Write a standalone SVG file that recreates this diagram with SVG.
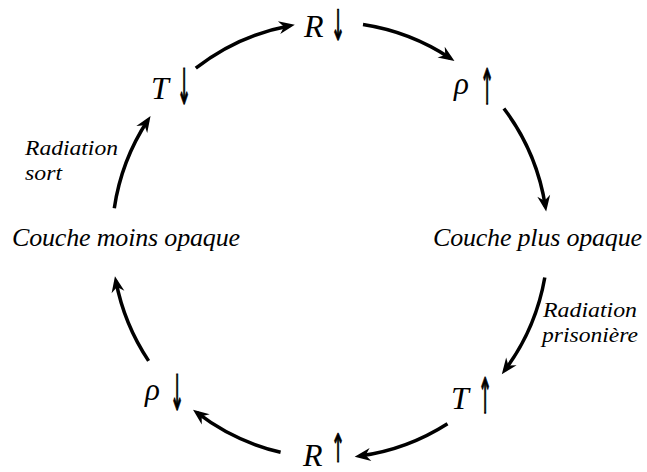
<svg xmlns="http://www.w3.org/2000/svg" width="647" height="472" viewBox="0 0 647 472">
<style>
.lbl{font-family:"Liberation Serif","DejaVu Serif",serif;font-style:italic;fill:#000}
.var{font-size:32px}
.arw{font-family:"DejaVu Sans",sans-serif;font-style:normal;font-size:28px;fill:#000;stroke:#000;stroke-width:0.8}
.rho{font-family:"Liberation Serif","DejaVu Serif",serif;font-style:italic;font-size:31px;fill:#000}
.big{font-size:26px}
.sm{font-size:22px}
.arc{fill:none;stroke:#000;stroke-width:3.5}
</style>
<defs>
<marker id="ah" markerUnits="userSpaceOnUse" orient="auto" refX="0" refY="0" overflow="visible" markerWidth="20" markerHeight="20">
<path d="M5,0 L-11,-6.5 L-6,0 L-11,6.5 Z" fill="#000"/>
</marker>
</defs>
<rect width="647" height="472" fill="#fff"/>
<g id="connectors">
<path class="arc" marker-end="url(#ah)" d="M195.8,68.2 A218,218 0 0 1 289.9,25.7"/>
<path class="arc" marker-end="url(#ah)" d="M363,24.5 A218,218 0 0 1 450.3,58.2"/>
<path class="arc" marker-end="url(#ah)" d="M503.9,108.5 A218,218 0 0 1 545.4,206.6"/>
<path class="arc" marker-end="url(#ah)" d="M544.8,277.5 A218,218 0 0 1 504.8,370.3"/>
<path class="arc" marker-end="url(#ah)" d="M447.5,423.7 A218,218 0 0 1 359.6,456"/>
<path class="arc" marker-end="url(#ah)" d="M280.6,452.3 A218,218 0 0 1 197,412.7"/>
<path class="arc" marker-end="url(#ah)" d="M148.6,360.9 A218,218 0 0 1 115.9,281.2"/>
<path class="arc" marker-end="url(#ah)" d="M114.3,208.2 A218,218 0 0 1 147.8,120.3"/>
</g>
<g id="R-down"><text class="lbl var" x="304" y="37">R</text><text class="arw" transform="translate(338,40) scale(0.6,1.5)" text-anchor="middle">↓</text></g>
<g id="rho-up"><text class="rho" x="454" y="94">ρ</text><text class="arw" transform="translate(487,104) scale(0.6,1.75)" text-anchor="middle">↑</text></g>
<g id="T-down"><text class="lbl var" x="151" y="99">T</text><text class="arw" transform="translate(184,104) scale(0.6,1.75)" text-anchor="middle">↓</text></g>
<g id="couche-plus"><text class="lbl big" x="433" y="246" textLength="209" lengthAdjust="spacing">Couche plus opaque</text></g>
<g id="couche-moins"><text class="lbl big" x="12" y="246" textLength="228" lengthAdjust="spacing">Couche moins opaque</text></g>
<g id="T-up"><text class="lbl var" x="451" y="409">T</text><text class="arw" transform="translate(485,413) scale(0.6,1.75)" text-anchor="middle">↑</text></g>
<g id="rho-down"><text class="rho" x="145" y="400">ρ</text><text class="arw" transform="translate(177,410) scale(0.6,1.75)" text-anchor="middle">↓</text></g>
<g id="R-up"><text class="lbl var" x="303" y="466">R</text><text class="arw" transform="translate(338,462) scale(0.6,1.4)" text-anchor="middle">↑</text></g>
<g id="label-sort"><text class="lbl sm" x="25" y="155" textLength="93" lengthAdjust="spacingAndGlyphs">Radiation</text><text class="lbl sm" x="25" y="180" textLength="37" lengthAdjust="spacingAndGlyphs">sort</text></g>
<g id="label-prison"><text class="lbl sm" x="543" y="317" textLength="94" lengthAdjust="spacingAndGlyphs">Radiation</text><text class="lbl sm" x="542" y="342" textLength="96" lengthAdjust="spacingAndGlyphs">prisonière</text></g>
</svg>
